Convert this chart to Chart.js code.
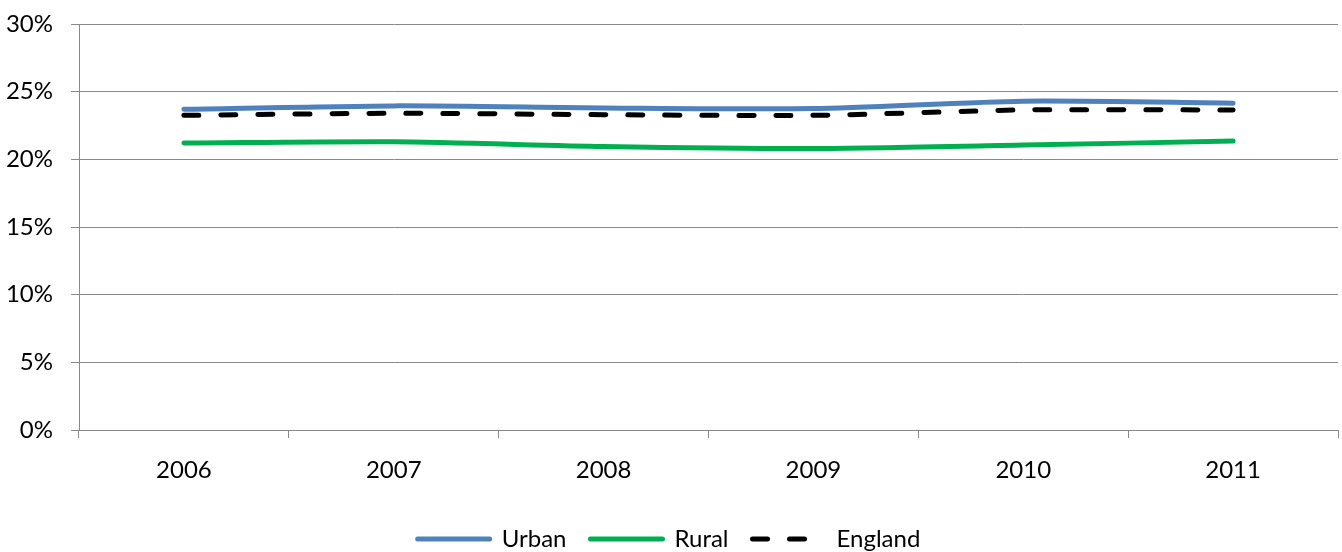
<!DOCTYPE html>
<html lang="en">
<head>
  <meta charset="UTF-8">
  <title>Urban / Rural / England</title>
  <script src="https://cdn.jsdelivr.net/npm/chart.js"></script>
  <style>
    html, body {
      margin: 0;
      padding: 0;
      background: white;
      overflow: hidden;
    }
    #wrap {
      width: 1342px;
      height: 552px;
    }
  </style>
</head>
<body>
  <div id="wrap"><canvas id="chart"></canvas></div>

  <script>
    // data (percent)
    const years = ['2006', '2007', '2008', '2009', '2010', '2011'];
    const urban = [23.7, 23.95, 23.8, 23.75, 24.3, 24.15];
    const rural = [21.2, 21.3, 20.95, 20.8, 21.05, 21.35];
    const england = [23.25, 23.4, 23.3, 23.25, 23.65, 23.65];

    const yTicks = [0, 5, 10, 15, 20, 25, 30];

    const gridCol = '#898989';
    const font = { family: 'Lato, "Open Sans", sans-serif', size: 24 };

    new Chart(document.getElementById('chart'), {
      type: 'line',
      data: {
        labels: years,
        datasets: [
          {
            label: 'Urban', data: urban,
            borderColor: '#4F81BD', backgroundColor: '#4F81BD',
            borderWidth: 5, borderCapStyle: 'round', tension: 0.25,
            pointRadius: 0, fill: false
          },
          {
            label: 'Rural', data: rural,
            borderColor: '#00B050', backgroundColor: '#00B050',
            borderWidth: 5, borderCapStyle: 'round', tension: 0.25,
            pointRadius: 0, fill: false
          },
          {
            label: 'England', data: england,
            borderColor: '#000000', backgroundColor: '#000000',
            borderWidth: 5, borderCapStyle: 'round', borderDash: [15, 22],
            tension: 0.25, pointRadius: 0, fill: false
          }
        ]
      },
      options: {
        responsive: true,
        maintainAspectRatio: false,
        animation: false,
        layout: { padding: { top: 15, right: 4, left: 0, bottom: -9 } },
        plugins: {
          tooltip: { enabled: false },
          legend: {
            position: 'bottom',
            labels: {
              usePointStyle: true,
              pointStyle: 'line',
              pointStyleWidth: 72,
              boxHeight: 24,
              padding: 24,
              color: '#000',
              font: font,
              // point style labels lose the dash, put it back from the dataset
              generateLabels: chart => {
                const items = Chart.defaults.plugins.legend.labels.generateLabels(chart);
                items.forEach(it => {
                  const ds = chart.data.datasets[it.datasetIndex];
                  it.lineDash = ds.borderDash || [];
                  it.lineCap = 'round';
                  it.lineWidth = ds.borderWidth;
                  it.strokeStyle = ds.borderColor;
                });
                return items;
              }
            }
          }
        },
        scales: {
          x: {
            offset: true,
            grid: {
              offset: true,
              drawOnChartArea: false,
              drawTicks: true,
              tickLength: 8,
              color: gridCol,
              lineWidth: 1
            },
            border: { display: true, color: gridCol, width: 1 },
            ticks: { color: '#000', font: font, padding: 18, maxRotation: 0 },
            afterFit: s => { s.height = 73; }
          },
          y: {
            min: 0,
            max: 30,
            afterBuildTicks: s => { s.ticks = yTicks.map(v => ({ value: v })); },
            grid: {
              color: gridCol,
              lineWidth: 1,
              drawTicks: true,
              tickLength: 8
            },
            border: { display: true, color: gridCol, width: 1 },
            ticks: {
              color: '#000',
              // small line height so the top label does not push the plot down
              font: { family: font.family, size: 24, lineHeight: 0.5 },
              padding: 18,
              callback: v => v + '%'
            },
            afterFit: s => { s.width = 79; }
          }
        }
      }
    });
  </script>
</body>
</html>
